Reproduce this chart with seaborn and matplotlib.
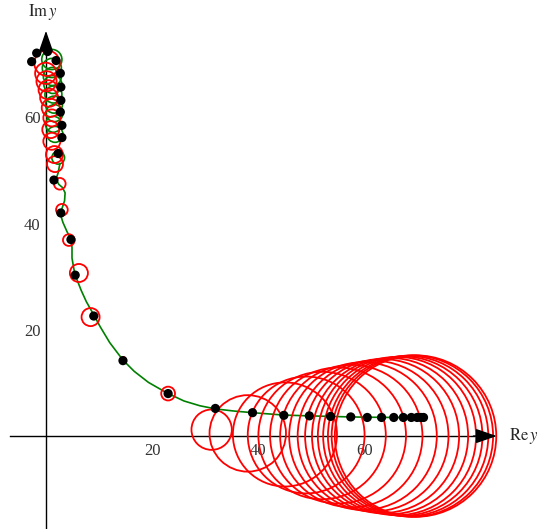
import numpy as np
import pandas as pd
import matplotlib
matplotlib.use("Agg")
import matplotlib.pyplot as plt
from matplotlib.patches import Circle
import seaborn as sns

# black sample points (Re y, Im y)
dot_re = [-1.75, 0.3, -2.7, 1.9, 2.7, 2.8, 2.8, 2.7, 3.0, 3.0, 2.3, 1.5, 2.8,
          4.7, 5.5, 9.0, 14.5, 23.0, 31.9, 38.9, 44.8, 49.6, 53.6, 57.4, 60.5,
          63.2, 65.5, 67.3, 68.8, 69.9, 70.6, 71.1]
dot_im = [72.1, 72.4, 70.5, 70.7, 68.3, 65.7, 63.2, 61.0, 58.5, 56.2, 53.2, 48.2, 42.0,
          37.0, 30.3, 22.6, 14.2, 8.0, 5.2, 4.4, 3.9, 3.8, 3.7, 3.6, 3.5,
          3.5, 3.5, 3.5, 3.5, 3.5, 3.5, 3.5]

# red error circles: centre and radius
red_re = [0.2, -0.05, 0.1, 0.4, 0.6, 0.9, 1.1, 0.9, 1.1, 1.6, 1.7, 2.6, 3.0,
          4.3, 6.2, 8.4, 14.5, 23.0,
          31.2, 38.0, 45.0, 49.0, 52.0, 55.0, 57.5, 59.7, 61.6, 63.3, 64.8,
          66.1, 67.2, 68.2, 69.0, 69.6]
red_im = [70.2, 68.3, 66.8, 65.2, 63.7, 61.8, 59.9, 57.7, 55.5, 53.0, 51.2, 47.5, 42.6,
          36.9, 30.7, 22.4, 14.4, 8.0,
          1.2, 0.5, 0.3, 0.2, 0.1, 0.1, 0.0, 0.0, 0.0, 0.0, 0.0,
          0.0, 0.0, 0.0, 0.0, 0.0]
red_r = [2.4, 2.0, 1.9, 1.8, 1.7, 1.7, 1.6, 1.6, 1.6, 1.6, 1.5, 1.1, 1.1,
         1.1, 1.7, 1.7, 0.5, 1.3,
         3.8, 7.2, 9.8, 11.0, 12.0, 12.8, 13.4, 13.9, 14.2, 14.5, 14.7,
         14.9, 15.0, 15.1, 15.2, 15.2]

# green curve: loops near the top, then the smooth tail
loop_re = [1.1, 1.1, 1.2, 1.3, 1.4, 1.5, 1.6, 1.4, 1.7, 2.3]
loop_im = [70.9, 69.3, 67.7, 66.2, 64.3, 62.4, 60.8, 58.7, 56.8, 52.4]
loop_r = [1.9, 1.8, 1.7, 1.7, 1.6, 1.6, 1.6, 1.5, 1.5, 1.2]

curve_re = [2.6, 2.3, 1.9, 2.4, 3.1, 3.6, 3.5, 3.0, 2.7, 3.2, 4.0, 4.7, 4.9, 4.9,
            5.3, 5.9, 6.6, 7.6, 8.9, 10.2, 12.0, 14.5, 16.6, 19.3, 22.8,
            26.0, 29.0, 32.0, 35.5, 38.9, 44.8, 49.6, 53.6, 57.4, 60.5, 65.5, 71.1]
curve_im = [51.2, 49.6, 48.4, 47.4, 46.8, 45.8, 44.3, 42.8, 41.8, 40.2, 38.4, 37.1, 35.5, 33.5,
            31.2, 29.3, 27.5, 25.3, 23.0, 20.6, 17.6, 14.3, 12.2, 10.1, 8.1,
            6.6, 5.7, 5.1, 4.7, 4.4, 3.95, 3.8, 3.7, 3.6, 3.55, 3.5, 3.5]

x_major = [20, 40, 60]
x_minor = [-5, 5, 10, 15, 25, 30, 35, 45, 50, 55, 65, 70, 75]
y_major = [20, 40, 60]
y_minor = [-15, -10, -5, 5, 10, 15, 25, 30, 35, 45, 50, 55, 65, 70]

sns.set_style("white")
plt.rcParams['font.family'] = ['Liberation Serif', 'DejaVu Serif']
plt.rcParams['mathtext.fontset'] = 'stix'

fig = plt.figure(figsize=(5.39, 5.29), dpi=100)
ax = fig.add_axes([0, 0, 1, 1])
ax.set_xlim(-8.66, 92.85)
ax.set_ylim(-17.5, 82.1)

curve = pd.DataFrame({'re': curve_re, 'im': curve_im})
sns.lineplot(data=curve, x='re', y='im', sort=False, estimator=None,
             color='#008000', linewidth=1.2, ax=ax, zorder=2)
for cx, cy, r in zip(loop_re, loop_im, loop_r):
    ax.add_patch(Circle((cx, cy), r, fill=False, edgecolor='#008000', lw=1.2, zorder=2))

for cx, cy, r in zip(red_re, red_im, red_r):
    ax.add_patch(Circle((cx, cy), r, fill=False, edgecolor='#ff0000', lw=1.3, zorder=3))

dots = pd.DataFrame({'re': dot_re, 'im': dot_im})
sns.scatterplot(data=dots, x='re', y='im', color='black', s=44,
                edgecolor='none', ax=ax, zorder=4)

# Mathematica-like axes through the origin
for side in ['top', 'right']:
    ax.spines[side].set_visible(False)
ax.spines['bottom'].set_position(('data', 0))
ax.spines['left'].set_position(('data', 0))
ax.spines['bottom'].set_bounds(-6.8, 82)
ax.spines['left'].set_bounds(-17.5, 73.5)
for side in ['bottom', 'left']:
    ax.spines[side].set_linewidth(1.0)
    ax.spines[side].set_color('black')
    ax.spines[side].set_zorder(1)

head = '-|>,head_length=1.3,head_width=0.45'
ax.annotate('', xy=(84.9, 0), xytext=(80.5, 0),
            arrowprops=dict(arrowstyle=head, color='black', lw=1, shrinkA=0, shrinkB=0))
ax.annotate('', xy=(0, 76.3), xytext=(0, 72),
            arrowprops=dict(arrowstyle=head, color='black', lw=1, shrinkA=0, shrinkB=0))

ax.set_xticks(x_major)
ax.set_xticklabels([str(v) for v in x_major])
ax.set_xticks(x_minor, minor=True)
ax.set_yticks(y_major)
ax.set_yticklabels([str(v) for v in y_major])
ax.set_yticks(y_minor, minor=True)
ax.tick_params(which='both', direction='in', colors='black', labelcolor='#333333',
               labelsize=12, width=0.8)
ax.tick_params(which='major', length=5, pad=5)
ax.tick_params(which='minor', length=3)
ax.tick_params(axis='y', pad=4)
ax.set_xlabel('')
ax.set_ylabel('')

ax.text(87.2, 0, r'$\mathrm{Re}\,y$', fontsize=12, ha='left', va='center')
ax.text(-0.6, 79.8, r'$\mathrm{Im}\,y$', fontsize=12, ha='center', va='center')

fig.savefig('out.png', dpi=100)
